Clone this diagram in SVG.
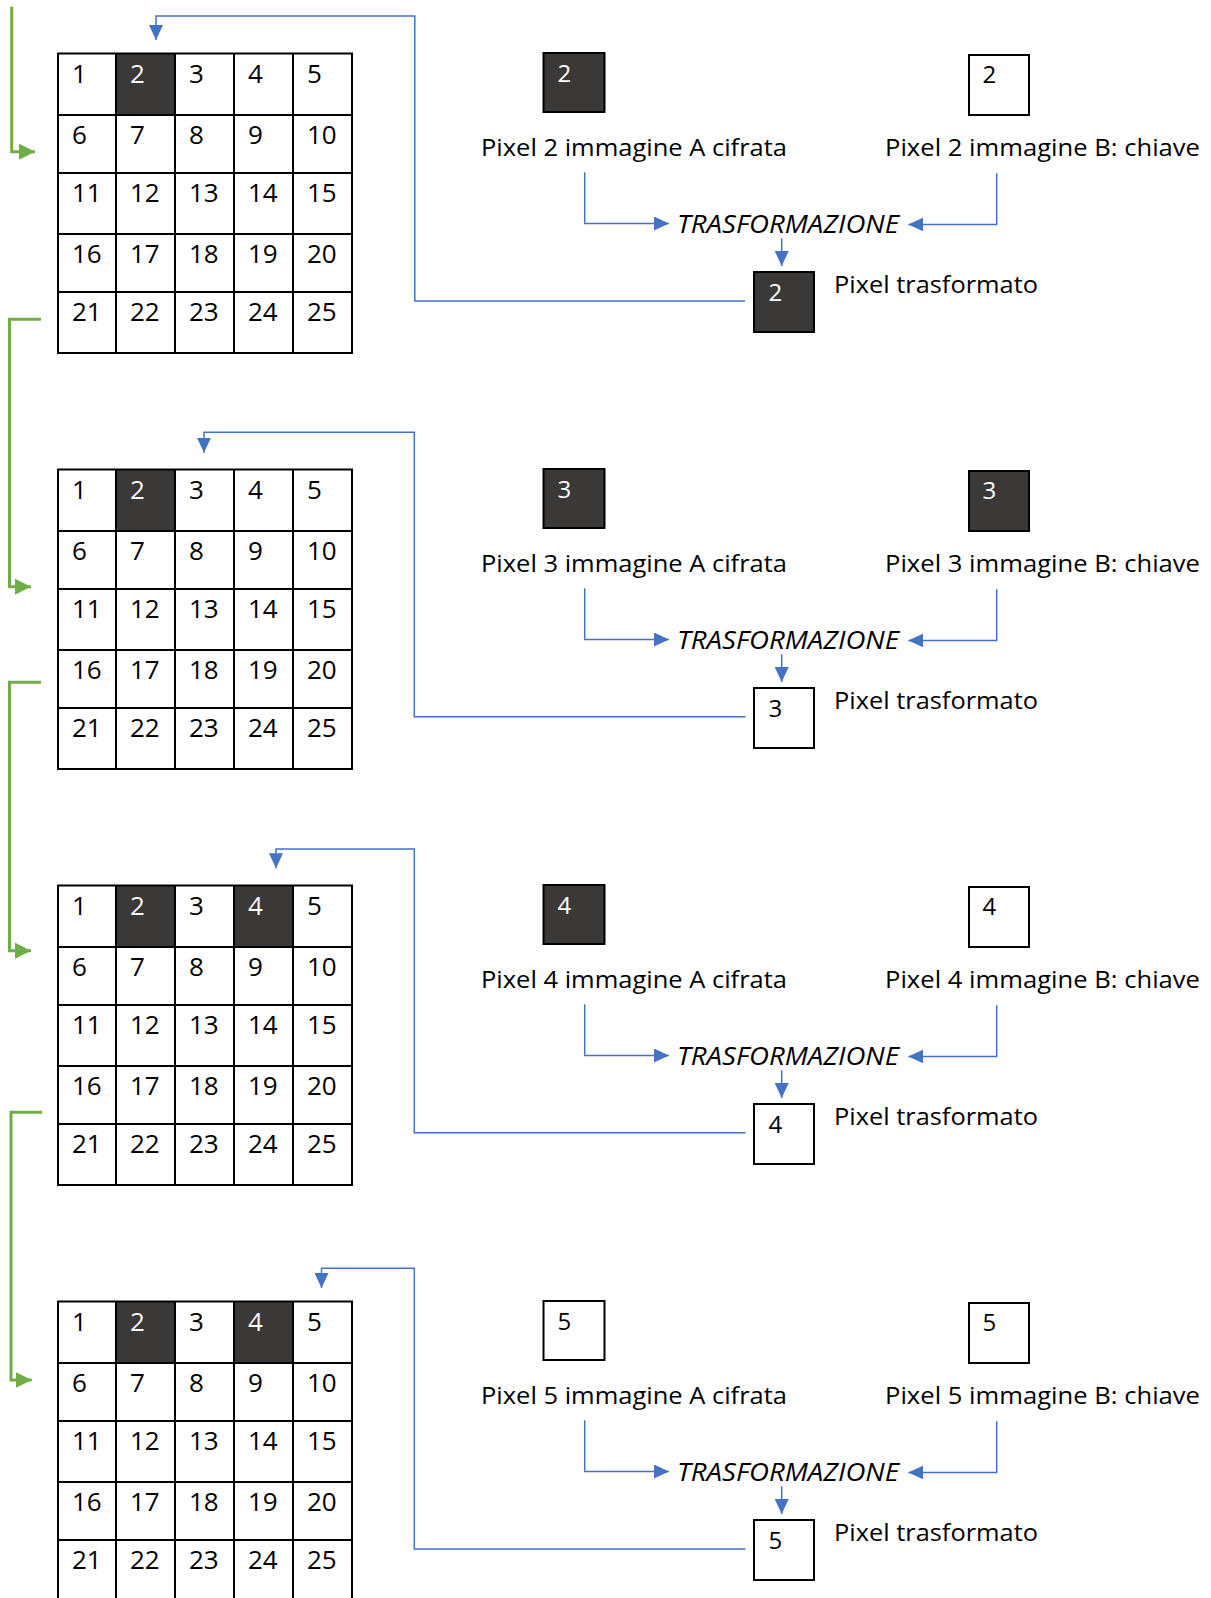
<svg xmlns="http://www.w3.org/2000/svg" width="1211" height="1598" viewBox="0 0 1211 1598">
<style>
text{font-family:"Open Sans","Noto Sans","DejaVu Sans",sans-serif;fill:#000}
.g{font-size:26px}
.d{font-size:24px}
.l{font-size:24px}
.t{font-size:25px;font-style:italic}
.w{fill:#fff}
.cell{fill:#3B3838}
.grid{fill:none;stroke:#000;stroke-width:2}
.box{stroke:#000;stroke-width:2}
.dk{fill:#3B3838}
.wh{fill:#fff}
.blue{fill:none;stroke:#4472C4;stroke-width:1.5}
.green{fill:none;stroke:#70AD47;stroke-width:3}
</style>
<defs>
<marker id="ab" markerUnits="userSpaceOnUse" markerWidth="15" markerHeight="14" refX="15" refY="7" orient="auto"><path d="M0,0 L15,7 L0,14 z" fill="#4472C4"/></marker>
<marker id="ag" markerUnits="userSpaceOnUse" markerWidth="16" markerHeight="16" refX="16" refY="8" orient="auto"><path d="M0,0 L16,8 L0,16 z" fill="#70AD47"/></marker>
<g id="gridlines">
<rect x="58" y="53.5" width="294" height="299.5"/>
<path d="M116,53.5V353M175,53.5V353M234,53.5V353M293,53.5V353M58,115H352M58,173H352M58,234H352M58,292H352"/>
</g>
<g id="nums" class="g">
<text x="72" y="82.5">1</text><text x="130" y="82.5">2</text><text x="189" y="82.5">3</text><text x="248" y="82.5">4</text><text x="307" y="82.5">5</text>
<text x="72" y="143.5">6</text><text x="130" y="143.5">7</text><text x="189" y="143.5">8</text><text x="248" y="143.5">9</text><text x="307" y="143.5">10</text>
<text x="72" y="202">11</text><text x="130" y="202">12</text><text x="189" y="202">13</text><text x="248" y="202">14</text><text x="307" y="202">15</text>
<text x="72" y="262.5">16</text><text x="130" y="262.5">17</text><text x="189" y="262.5">18</text><text x="248" y="262.5">19</text><text x="307" y="262.5">20</text>
<text x="72" y="321">21</text><text x="130" y="321">22</text><text x="189" y="321">23</text><text x="248" y="321">24</text><text x="307" y="321">25</text>
</g>
</defs>

<g id="grid1">
<rect class="cell" x="116" y="53.5" width="59" height="61.5"/>
<use href="#gridlines" class="grid"/>
<use href="#nums"/>
<text class="g w" x="130" y="82.5">2</text>
</g>
<g id="grid2" transform="translate(0,416)">
<rect class="cell" x="116" y="53.5" width="59" height="61.5"/>
<use href="#gridlines" class="grid"/>
<use href="#nums"/>
<text class="g w" x="130" y="82.5">2</text>
</g>
<g id="grid3" transform="translate(0,832)">
<rect class="cell" x="116" y="53.5" width="59" height="61.5"/>
<rect class="cell" x="234" y="53.5" width="59" height="61.5"/>
<use href="#gridlines" class="grid"/>
<use href="#nums"/>
<text class="g w" x="130" y="82.5">2</text>
<text class="g w" x="248" y="82.5">4</text>
</g>
<g id="grid4" transform="translate(0,1248)">
<rect class="cell" x="116" y="53.5" width="59" height="61.5"/>
<rect class="cell" x="234" y="53.5" width="59" height="61.5"/>
<use href="#gridlines" class="grid"/>
<use href="#nums"/>
<text class="g w" x="130" y="82.5">2</text>
<text class="g w" x="248" y="82.5">4</text>
</g>

<!-- section 1 -->
<g id="pixelA1"><rect class="box dk" x="543.5" y="53" width="61" height="59"/><text class="d w" x="557.5" y="82">2</text></g>
<g id="pixelB1"><rect class="box wh" x="969" y="55" width="60" height="60"/><text class="d" x="982.5" y="83">2</text></g>
<g id="labelA1"><text class="l" x="481" y="156" textLength="306" lengthAdjust="spacingAndGlyphs">Pixel 2 immagine A cifrata</text></g>
<g id="labelB1"><text class="l" x="885" y="156" textLength="315" lengthAdjust="spacingAndGlyphs">Pixel 2 immagine B: chiave</text></g>
<g id="trasf1"><text class="t" x="677" y="232.7" textLength="222" lengthAdjust="spacingAndGlyphs">TRASFORMAZIONE</text></g>
<g id="pixelT1"><rect class="box dk" x="754" y="272" width="60" height="60"/><text class="d w" x="768.5" y="300.5">2</text></g>
<g id="labelT1"><text class="l" x="834" y="292.5" textLength="204" lengthAdjust="spacingAndGlyphs">Pixel trasformato</text></g>

<!-- section 2 -->
<g id="pixelA2"><rect class="box dk" x="543.5" y="469" width="61" height="59"/><text class="d w" x="557.5" y="498">3</text></g>
<g id="pixelB2"><rect class="box dk" x="969" y="471" width="60" height="60"/><text class="d w" x="982.5" y="499">3</text></g>
<g id="labelA2"><text class="l" x="481" y="572" textLength="306" lengthAdjust="spacingAndGlyphs">Pixel 3 immagine A cifrata</text></g>
<g id="labelB2"><text class="l" x="885" y="572" textLength="315" lengthAdjust="spacingAndGlyphs">Pixel 3 immagine B: chiave</text></g>
<g id="trasf2"><text class="t" x="677" y="648.7" textLength="222" lengthAdjust="spacingAndGlyphs">TRASFORMAZIONE</text></g>
<g id="pixelT2"><rect class="box wh" x="754" y="688" width="60" height="60"/><text class="d" x="768.5" y="716.5">3</text></g>
<g id="labelT2"><text class="l" x="834" y="708.5" textLength="204" lengthAdjust="spacingAndGlyphs">Pixel trasformato</text></g>

<!-- section 3 -->
<g id="pixelA3"><rect class="box dk" x="543.5" y="885" width="61" height="59"/><text class="d w" x="557.5" y="914">4</text></g>
<g id="pixelB3"><rect class="box wh" x="969" y="887" width="60" height="60"/><text class="d" x="982.5" y="915">4</text></g>
<g id="labelA3"><text class="l" x="481" y="988" textLength="306" lengthAdjust="spacingAndGlyphs">Pixel 4 immagine A cifrata</text></g>
<g id="labelB3"><text class="l" x="885" y="988" textLength="315" lengthAdjust="spacingAndGlyphs">Pixel 4 immagine B: chiave</text></g>
<g id="trasf3"><text class="t" x="677" y="1064.7" textLength="222" lengthAdjust="spacingAndGlyphs">TRASFORMAZIONE</text></g>
<g id="pixelT3"><rect class="box wh" x="754" y="1104" width="60" height="60"/><text class="d" x="768.5" y="1132.5">4</text></g>
<g id="labelT3"><text class="l" x="834" y="1124.5" textLength="204" lengthAdjust="spacingAndGlyphs">Pixel trasformato</text></g>

<!-- section 4 -->
<g id="pixelA4"><rect class="box wh" x="543.5" y="1301" width="61" height="59"/><text class="d" x="557.5" y="1330">5</text></g>
<g id="pixelB4"><rect class="box wh" x="969" y="1303" width="60" height="60"/><text class="d" x="982.5" y="1331">5</text></g>
<g id="labelA4"><text class="l" x="481" y="1404" textLength="306" lengthAdjust="spacingAndGlyphs">Pixel 5 immagine A cifrata</text></g>
<g id="labelB4"><text class="l" x="885" y="1404" textLength="315" lengthAdjust="spacingAndGlyphs">Pixel 5 immagine B: chiave</text></g>
<g id="trasf4"><text class="t" x="677" y="1480.7" textLength="222" lengthAdjust="spacingAndGlyphs">TRASFORMAZIONE</text></g>
<g id="pixelT4"><rect class="box wh" x="754" y="1520" width="60" height="60"/><text class="d" x="768.5" y="1548.5">5</text></g>
<g id="labelT4"><text class="l" x="834" y="1540.5" textLength="204" lengthAdjust="spacingAndGlyphs">Pixel trasformato</text></g>

<g id="connectors">
<path class="blue" marker-end="url(#ab)" d="M584.7,172.3V223.5H669"/>
<path class="blue" marker-end="url(#ab)" d="M996.7,173.3V224.5H908.3"/>
<path class="blue" marker-end="url(#ab)" d="M781.7,238.3V266"/>
<path class="blue" marker-end="url(#ab)" d="M745,301H414.8V16H156V40"/>

<path class="blue" marker-end="url(#ab)" d="M584.7,588.3V639.5H669"/>
<path class="blue" marker-end="url(#ab)" d="M996.7,589.3V640.5H908.3"/>
<path class="blue" marker-end="url(#ab)" d="M781.7,654.3V682"/>
<path class="blue" marker-end="url(#ab)" d="M745.5,716.7H414.3V432.3H204V452.7"/>

<path class="blue" marker-end="url(#ab)" d="M584.7,1004.3V1055.5H669"/>
<path class="blue" marker-end="url(#ab)" d="M996.7,1005.3V1056.5H908.3"/>
<path class="blue" marker-end="url(#ab)" d="M781.7,1070.3V1098"/>
<path class="blue" marker-end="url(#ab)" d="M745.5,1132.7H414.3V849H276V868.3"/>

<path class="blue" marker-end="url(#ab)" d="M584.7,1420.3V1471.5H669"/>
<path class="blue" marker-end="url(#ab)" d="M996.7,1421.3V1472.5H908.3"/>
<path class="blue" marker-end="url(#ab)" d="M781.7,1486.3V1514"/>
<path class="blue" marker-end="url(#ab)" d="M745.5,1549H414.3V1268.3H321.5V1288"/>

<path class="green" marker-end="url(#ag)" d="M11.7,6.7V151.7H35"/>
<path class="green" marker-end="url(#ag)" d="M41,319.3H9.5V586.7H31"/>
<path class="green" marker-end="url(#ag)" d="M41,682.3H9.5V950.7H31"/>
<path class="green" marker-end="url(#ag)" d="M42,1112.3H11V1380H31.7"/>
</g>
</svg>
